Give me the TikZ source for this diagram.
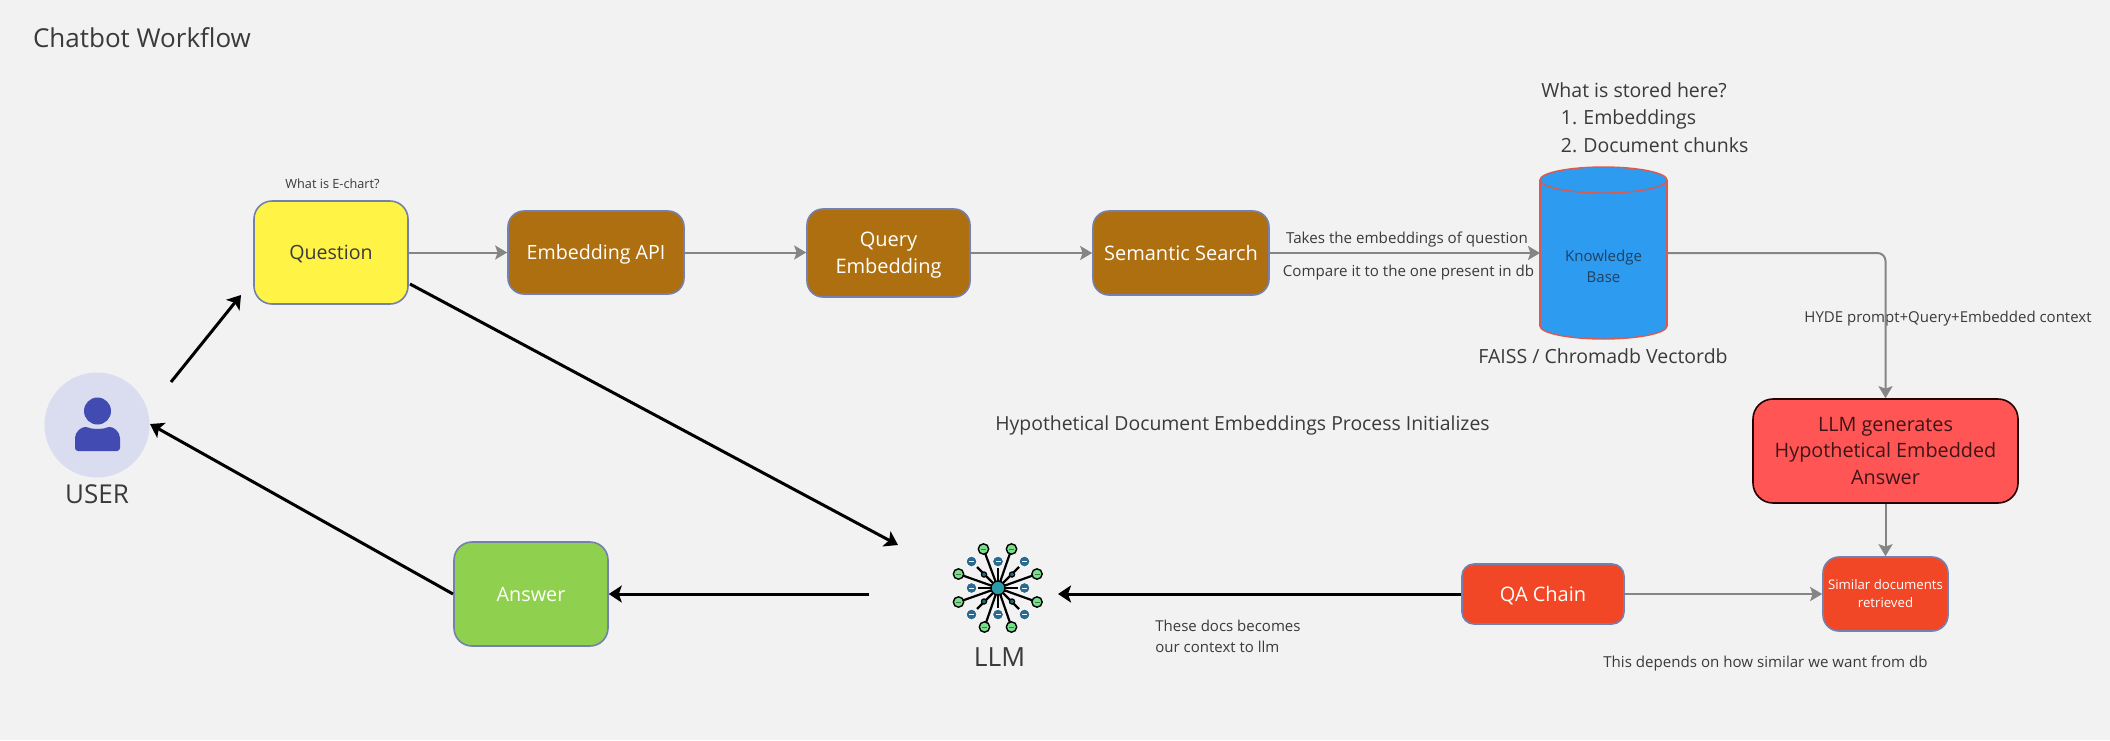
\documentclass[tikz,border=0pt]{standalone}
\usepackage{fontspec}
\setmainfont{Open Sans}
\usetikzlibrary{arrows.meta,calc}
\definecolor{bgc}{HTML}{F2F2F2}
\definecolor{edgeblue}{HTML}{7480AE}
\definecolor{ygl}{HTML}{FFF445}
\definecolor{brownb}{HTML}{AD6F10}
\definecolor{grn}{HTML}{8FD14F}
\definecolor{orng}{HTML}{F24726}
\definecolor{redb}{HTML}{FF5555}
\definecolor{bluec}{HTML}{2D9BF0}
\definecolor{gline}{HTML}{858585}
\definecolor{txt}{HTML}{3A3A3A}
\definecolor{usrbg}{HTML}{DADCF0}
\definecolor{usrfg}{HTML}{414BB2}
\definecolor{lg}{HTML}{79DF8B}
\definecolor{lb}{HTML}{2B6A8F}
\definecolor{lc}{HTML}{2A9CA8}
\definecolor{cyle}{HTML}{DB5A50}
\definecolor{kbtxt}{HTML}{23405E}
\definecolor{gentxt}{HTML}{3F1518}
\newcommand{\sizepx}[2]{\fontsize{#1}{#2}\selectfont}
\tikzset{
  x=0.5pt,y=-0.5pt,
  box/.style={draw=edgeblue,line width=0.8pt,rounded corners=8pt,inner sep=0pt,align=center},
  wbox/.style={box,text=white},
  oneline/.style={text height=0.92em,text depth=0.2em},
  lab/.style={inner sep=0pt,text=txt,align=center,oneline},
  slab/.style={inner sep=0pt,text=txt,align=center,text height=0.72em,text depth=0.2em},
  llab/.style={anchor=west,inner sep=0pt,text=txt,oneline,font=\sizepx{9.75}{12}},
  gar/.style={draw=gline,line width=1pt,-{Stealth[length=6pt,width=7pt,inset=1.2pt]}},
  bar/.style={draw=black,line width=1.5pt,-{Stealth[length=6.5pt,width=8.5pt,inset=1.5pt]}},
  lspoke/.style={draw=black,line width=1.1pt},
  gnode/.style={circle,draw=black,line width=0.7pt,fill=lg,minimum size=5.2pt,inner sep=0pt},
  bnode/.style={circle,draw=white,line width=0.4pt,fill=lb,minimum size=5.4pt,inner sep=0pt},
  snode/.style={circle,draw=black,line width=0.6pt,fill=lc!70!black,minimum size=2.6pt,inner sep=0pt},
  cyl/.style={draw=cyle,line width=0.7pt,fill=bluec},
}
\begin{document}
\begin{tikzpicture}
\path[use as bounding box,fill=bgc] (0,0) rectangle (2110,740);

\node[lab,font=\sizepx{13}{15}] (title) at (142,40) {Chatbot Workflow};

% USER
\node[circle,fill=usrbg,minimum size=52.5pt,inner sep=0pt] (user) at (97,425) {};
\fill[usrfg] (97.5,411) ellipse[x radius=13.5,y radius=13.5];
\fill[usrfg,rounded corners=1.5pt] (75,451) -- (75,441)
  .. controls (75,432) and (81,427) .. (88,427)
  .. controls (92,429) and (103,429) .. (107,427)
  .. controls (114,427) and (120,432) .. (120,441) -- (120,451) -- cycle;
\node[lab,font=\sizepx{13}{16}] (usertxt) at (97,496) {USER};

% Top row
\node[box,oneline,fill=ygl,minimum width=77pt,minimum height=51.5pt,rounded corners=9pt,text=txt,font=\sizepx{9.8}{12}] (q) at (331,252.5) {Question};
\node[slab,font=\sizepx{6.35}{8}] (qt) at (332.5,183) {What is E-chart?};
\node[wbox,oneline,fill=brownb,minimum width=88pt,minimum height=41.5pt,font=\sizepx{9.8}{13.5}] (ea) at (596,252.5) {Embedding API};
\node[wbox,fill=brownb,minimum width=81.5pt,minimum height=44pt] (qe) at (888.5,253) {};
\node[inner sep=0pt,align=center,text=white,font=\sizepx{10}{13.5}] (qet) at (888.5,255.5) {Query\\Embedding};
\node[wbox,oneline,fill=brownb,minimum width=88pt,minimum height=42pt,font=\sizepx{10}{13.5}] (ss) at (1181,253) {Semantic Search};

% Cylinder
\path[cyl] (1603.5,326) ellipse[x radius=63.5,y radius=13];
\fill[bluec] (1540,180) rectangle (1667,326);
\draw[cyle,line width=0.7pt] (1540,180) -- (1540,326) (1667,180) -- (1667,326);
\path[cyl] (1603.5,180) ellipse[x radius=63.5,y radius=13];
\node[minimum width=63.5pt,minimum height=86pt,inner sep=0pt,align=center,text=kbtxt,font=\sizepx{7.5}{10.5}] (kb) at (1603.5,266) {Knowledge\\Base};
\coordinate (kbin) at (1540,253);
\coordinate (kbout) at (1667,253);

\node[lab,font=\sizepx{9.75}{12}] (faiss) at (1603,356) {FAISS / Chromadb Vectordb};
\node[llab] (st1) at (1541,90) {What is stored here?};
\node[llab] (st2) at (1560.5,117) {1.\hspace{0.32em}Embeddings};
\node[llab] (st3) at (1560.5,145) {2.\hspace{0.32em}Document chunks};

\node[slab,font=\sizepx{7.58}{10}] (l1) at (1407,238) {Takes the embeddings of question};
\node[slab,font=\sizepx{7.55}{10}] (l2) at (1408.5,271) {Compare it to the one present in db};
\node[slab,font=\sizepx{7.5}{10}] (hyde) at (1948,317) {HYDE prompt+Query+Embedded context};
\node[lab,font=\sizepx{9.7}{12}] (hyp) at (1242.5,423) {Hypothetical Document Embeddings Process Initializes};

% Right column
\node[draw=black!85!red,line width=0.8pt,fill=redb,rounded corners=10pt,minimum width=132.5pt,minimum height=52pt,inner sep=0pt,align=center,text=gentxt,font=\sizepx{9.9}{13.4}] (gen) at (1885.5,451) {LLM generates\\Hypothetical Embedded\\Answer};
\node[wbox,fill=orng,minimum width=62.5pt,minimum height=37pt,font=\sizepx{6.6}{9}] (sim) at (1885.5,594) {Similar documents\\retrieved};
\node[wbox,oneline,fill=orng,minimum width=81pt,minimum height=30pt,rounded corners=6pt,font=\sizepx{10}{12}] (qa) at (1543,594) {QA Chain};
\node[slab,font=\sizepx{7.55}{10}] (dep) at (1765.5,662) {This depends on how similar we want from db};
\node[inner sep=0pt,align=left,text=txt,anchor=north west,font=\sizepx{7.5}{10.5}] (docs) at (1155,619.5) {These docs becomes\\our context to llm};

% Answer
\node[wbox,oneline,fill=grn,minimum width=77pt,minimum height=52pt,rounded corners=9pt,font=\sizepx{9.9}{12}] (ans) at (531,594) {Answer};

% LLM icon
\coordinate (c0) at (998,588);
\foreach \dx/\dy in {-14.5/-39,13.5/-39,-39.5/-14,39/-14,-39.5/14,39/14,-13.5/39,13.5/39}{
  \draw[lspoke] (c0) -- ++(\dx,\dy);
}
\foreach \dx/\dy in {-21/-21,21/-21,-21/21,21/21}{
  \draw[lspoke] (c0) -- ++(\dx,\dy);
}
\foreach \dx/\dy in {0/-20,0/20,-20/0,20/0}{
  \draw[lspoke] (c0) -- ++(\dx,\dy);
}
\foreach \i/\dx/\dy in {a/-14.5/-39,b/13.5/-39,c/-39.5/-14,d/39/-14,e/-39.5/14,f/39/14,g/-13.5/39,h/13.5/39}{
  \node[gnode] (g\i) at ($(c0)+(\dx,\dy)$) {};
  \draw[lg!55!black,line width=0.35pt] ($(c0)+(\dx,\dy)+(-2.5,0)$) -- ++(5,0);
}
\foreach \i/\dx/\dy in {a/-26.5/-26.5,b/0/-26.5,c/26.5/-26.5,d/-26.5/0,e/26.5/0,f/-26.5/26.5,g/0/26.5,h/26.5/26.5}{
  \node[bnode] (b\i) at ($(c0)+(\dx,\dy)$) {};
  \draw[white,line width=0.4pt] ($(c0)+(\dx,\dy)+(-2.5,0)$) -- ++(5,0);
}
\foreach \i/\dx/\dy in {a/-14/-13.5,b/14/-13.5,c/-14/13.5,d/14/13.5}{
  \node[snode] (s\i) at ($(c0)+(\dx,\dy)$) {};
}
\node[circle,draw=black,line width=0.7pt,fill=lc,minimum size=7pt,inner sep=0pt] (llmi) at (c0) {};
\node[lab,font=\sizepx{13.2}{16}] (llmt) at (999.5,659) {LLM};

% Connectors
\draw[gar] (q.east) -- (ea.west);
\draw[gar] (ea.east) -- (qe.west |- ea.east);
\draw[gar] (qe.east) -- (ss.west);
\draw[gar] (ss.east) -- (kbin);
\draw[gar,rounded corners=4pt] (kbout) -| (gen.north);
\draw[gar] (gen.south) -- (sim.north);
\draw[gar] (qa.east) -- (sim.west);
\coordinate (u1) at (171,382);
\coordinate (u2) at (241,295);
\draw[bar] (u1) -- (u2);
\coordinate (qs) at (410,284);
\coordinate (le) at (898,545);
\draw[bar] (qs) -- (le);
\coordinate (as) at (453,594);
\coordinate (ue) at (150,424);
\draw[bar] (as) -- (ue);
\coordinate (ls) at (869,594);
\draw[bar] (ls) -- (ans.east);
\coordinate (lin) at (1058,594);
\draw[bar] (qa.west) -- (lin);
\end{tikzpicture}
\end{document}
